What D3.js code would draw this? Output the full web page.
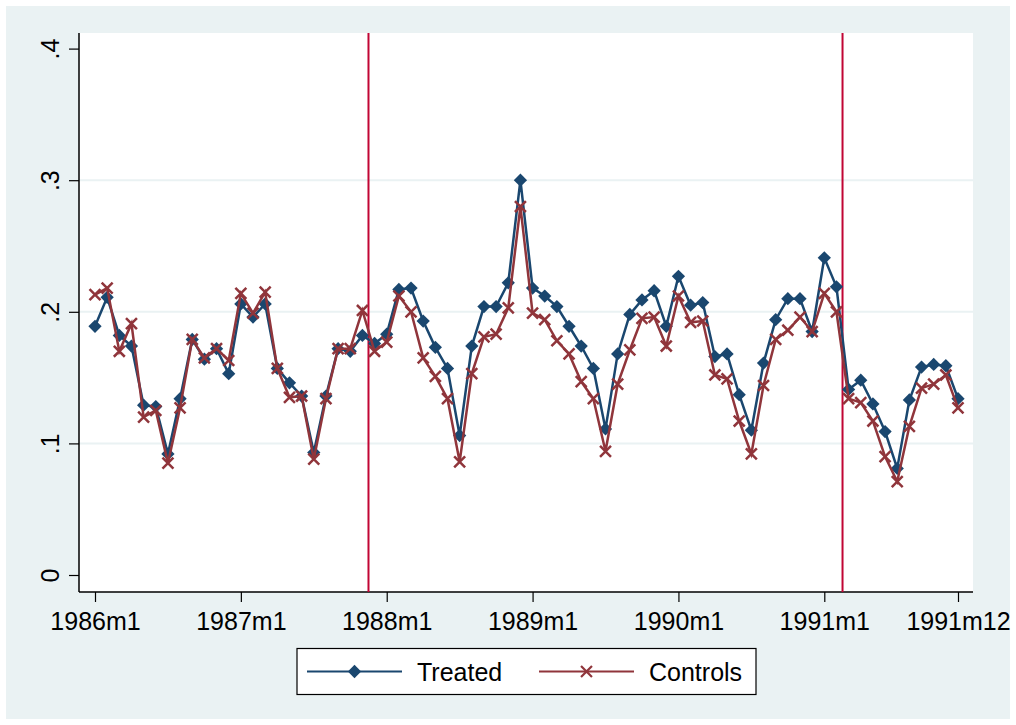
<!DOCTYPE html>
<html>
<head>
<meta charset="utf-8">
<script src="https://cdn.jsdelivr.net/npm/d3@7"></script>
<style>
  body { margin: 0; background: #fff; }
  svg { display: block; font-family: Arial, "Liberation Sans", sans-serif; }
</style>
</head>
<body>
<svg width="1016" height="725"></svg>
<script>
// monthly series, 1986m1 .. 1991m12
let treated = [
  0.189, 0.211, 0.182, 0.174, 0.129, 0.128, 0.092, 0.134, 0.179, 0.164, 0.172, 0.153,
  0.206, 0.196, 0.206, 0.157, 0.146, 0.136, 0.093, 0.136, 0.172, 0.170, 0.182, 0.176,
  0.183, 0.217, 0.218, 0.193, 0.173, 0.157, 0.106, 0.174, 0.204, 0.204, 0.222, 0.300,
  0.218, 0.212, 0.204, 0.189, 0.174, 0.157, 0.111, 0.168, 0.198, 0.209, 0.216, 0.189,
  0.227, 0.205, 0.207, 0.166, 0.168, 0.137, 0.110, 0.161, 0.194, 0.210, 0.210, 0.185,
  0.241, 0.219, 0.141, 0.148, 0.130, 0.109, 0.081, 0.133, 0.158, 0.160, 0.159, 0.134
];
let controls = [
  0.213, 0.218, 0.170, 0.191, 0.120, 0.125, 0.085, 0.127, 0.179, 0.165, 0.172, 0.163,
  0.214, 0.199, 0.215, 0.157, 0.135, 0.136, 0.088, 0.134, 0.172, 0.172, 0.201, 0.170,
  0.177, 0.212, 0.200, 0.165, 0.151, 0.134, 0.086, 0.153, 0.181, 0.183, 0.203, 0.280,
  0.199, 0.194, 0.178, 0.168, 0.147, 0.134, 0.094, 0.145, 0.171, 0.195, 0.196, 0.174,
  0.212, 0.192, 0.193, 0.152, 0.149, 0.117, 0.092, 0.144, 0.179, 0.186, 0.196, 0.185,
  0.214, 0.200, 0.134, 0.131, 0.117, 0.090, 0.071, 0.113, 0.142, 0.145, 0.152, 0.127
];
let xTicks = [0, 12, 24, 36, 48, 60, 71];
let xTickLabels = ['1986m1', '1987m1', '1988m1', '1989m1', '1990m1', '1991m1', '1991m12'];
let yTicks = [0, 0.1, 0.2, 0.3, 0.4];
let yTickLabels = ['0', '.1', '.2', '.3', '.4'];
let yGrid = [0.1, 0.2, 0.3];
let eventLines = [22.5, 61.5];
let seriesNames = ['Treated', 'Controls'];

let navy = '#1a476f';
let maroon = '#90353b';
let bg = '#eaf2f3';

let svg = d3.select('svg');

let plotLeft = 79, plotRight = 973, plotTop = 33, plotBottom = 592;

let xScale = d3.scaleLinear()
                .domain([0, 71])
                .range([95, 958]);

let yScale = d3.scaleLinear()
                .domain([0, 0.4])
                .range([575, 48.6]);

// graph region
svg.append('rect')
    .attr('x', 6).attr('y', 6)
    .attr('width', 1004).attr('height', 713)
    .attr('fill', bg);

svg.append('rect')
    .attr('x', plotLeft).attr('y', plotTop)
    .attr('width', plotRight - plotLeft).attr('height', plotBottom - plotTop)
    .attr('fill', '#fff');

svg.selectAll('.grid')
    .data(yGrid)
    .enter()
    .append('line')
    .attr('x1', plotLeft).attr('x2', plotRight)
    .attr('y1', d => yScale(d)).attr('y2', d => yScale(d))
    .attr('stroke', bg)
    .attr('stroke-width', 2);

let yAxis = d3.axisLeft(yScale)
              .tickValues(yTicks)
              .tickFormat((d, i) => yTickLabels[i])
              .tickSize(10)
              .tickSizeOuter(0);

let gy = svg.append('g')
    .attr('transform', `translate(${plotLeft},0)`)
    .call(yAxis);
gy.select('.domain').attr('d', `M0,${plotTop}V${plotBottom}`).attr('stroke', '#000').attr('stroke-width', 1.5);
gy.selectAll('.tick line').attr('stroke', '#000').attr('stroke-width', 1.2);
gy.selectAll('.tick text')
    .attr('font-size', 25)
    .attr('fill', '#000')
    .attr('text-anchor', 'middle')
    .attr('x', 0).attr('dy', 0)
    .attr('transform', 'translate(-20,0) rotate(-90)');

let xAxis = d3.axisBottom(xScale)
              .tickValues(xTicks)
              .tickFormat((d, i) => xTickLabels[i])
              .tickSize(10)
              .tickSizeOuter(0);

let gx = svg.append('g')
    .attr('transform', `translate(0,${plotBottom})`)
    .call(xAxis);
gx.select('.domain').attr('d', `M${plotLeft},0H${plotRight}`).attr('stroke', '#000').attr('stroke-width', 1.5);
gx.selectAll('.tick line').attr('stroke', '#000').attr('stroke-width', 1.2);
gx.selectAll('.tick text')
    .attr('font-size', 25)
    .attr('fill', '#000')
    .attr('y', 20)
    .attr('dy', '0.71em');

// event lines
svg.selectAll('.event')
    .data(eventLines)
    .enter()
    .append('line')
    .attr('x1', d => xScale(d)).attr('x2', d => xScale(d))
    .attr('y1', plotTop).attr('y2', plotBottom)
    .attr('stroke', '#c10534')
    .attr('stroke-width', 2);

let line = d3.line()
             .x((d, i) => xScale(i))
             .y(d => yScale(d));

let diamond = d3.symbol().type(d3.symbolSquare).size(88);
let cross = d3.symbol().type(d3.symbolX).size(80);

svg.append('path')
    .datum(treated)
    .attr('d', line)
    .attr('fill', 'none')
    .attr('stroke', navy)
    .attr('stroke-width', 2.5);

svg.selectAll('.tr')
    .data(treated)
    .enter()
    .append('path')
    .attr('d', diamond)
    .attr('transform', (d, i) => `translate(${xScale(i)},${yScale(d)}) rotate(45)`)
    .attr('fill', navy);

svg.append('path')
    .datum(controls)
    .attr('d', line)
    .attr('fill', 'none')
    .attr('stroke', maroon)
    .attr('stroke-width', 2.5);

svg.selectAll('.ct')
    .data(controls)
    .enter()
    .append('path')
    .attr('d', cross)
    .attr('transform', (d, i) => `translate(${xScale(i)},${yScale(d)})`)
    .attr('fill', 'none')
    .attr('stroke', maroon)
    .attr('stroke-width', 2.5);

// legend
let legend = svg.append('g');
legend.append('rect')
    .attr('x', 297).attr('y', 648.5)
    .attr('width', 459).attr('height', 46)
    .attr('fill', '#fff')
    .attr('stroke', '#000')
    .attr('stroke-width', 1.2);

let legendItems = [
  { name: seriesNames[0], color: navy, x0: 307, sym: diamond, rot: 45, fill: navy, stroke: 'none' },
  { name: seriesNames[1], color: maroon, x0: 539, sym: cross, rot: 0, fill: 'none', stroke: maroon }
];

legendItems.forEach(it => {
  legend.append('line')
      .attr('x1', it.x0).attr('x2', it.x0 + 95)
      .attr('y1', 671.5).attr('y2', 671.5)
      .attr('stroke', it.color)
      .attr('stroke-width', 2.2);
  legend.append('path')
      .attr('d', it.sym)
      .attr('transform', `translate(${it.x0 + 47.5},671.5) rotate(${it.rot})`)
      .attr('fill', it.fill)
      .attr('stroke', it.stroke)
      .attr('stroke-width', 2.2);
  legend.append('text')
      .attr('x', it.x0 + 110)
      .attr('y', 680.5)
      .attr('font-size', 25)
      .attr('fill', '#000')
      .text(it.name);
});
</script>
</body>
</html>
